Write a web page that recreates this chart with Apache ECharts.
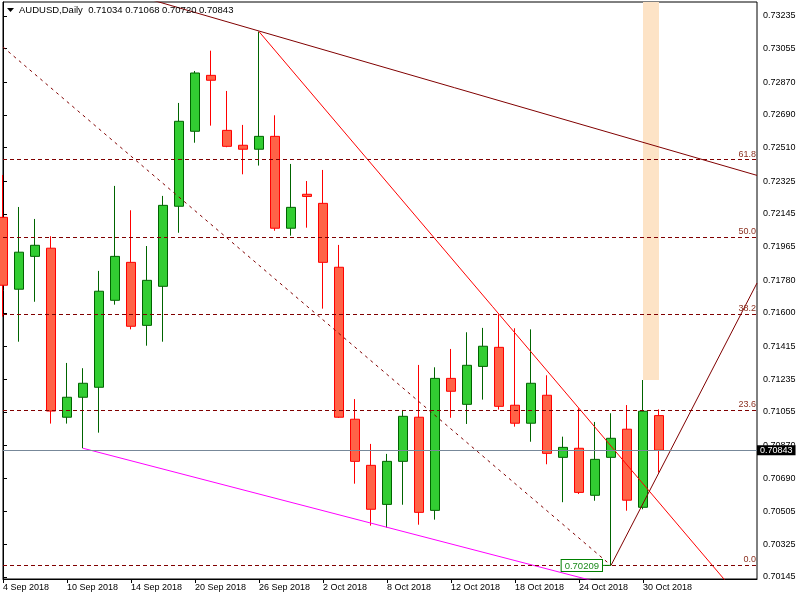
<!DOCTYPE html>
<html><head><meta charset="utf-8">
<script src="https://cdn.jsdelivr.net/npm/echarts@6/dist/echarts.min.js"></script>
<style>html,body{margin:0;padding:0;background:#fff}#c{width:800px;height:600px}</style>
</head><body><div id="c"></div>
<script>
const symbolName = 'AUDUSD,Daily';
const dates = ['4 Sep 2018','5 Sep 2018','6 Sep 2018','7 Sep 2018','10 Sep 2018','11 Sep 2018','12 Sep 2018','13 Sep 2018','14 Sep 2018','17 Sep 2018','18 Sep 2018','19 Sep 2018','20 Sep 2018','21 Sep 2018','24 Sep 2018','25 Sep 2018','26 Sep 2018','27 Sep 2018','28 Sep 2018',
  '1 Oct 2018','2 Oct 2018','3 Oct 2018','4 Oct 2018','5 Oct 2018','8 Oct 2018','9 Oct 2018','10 Oct 2018','11 Oct 2018','12 Oct 2018','15 Oct 2018','16 Oct 2018','17 Oct 2018','18 Oct 2018','19 Oct 2018','22 Oct 2018','23 Oct 2018','24 Oct 2018','25 Oct 2018','26 Oct 2018','29 Oct 2018','30 Oct 2018','31 Oct 2018'];
const opens = [0.72126,0.71730,0.71911,0.71956,0.71025,0.71135,0.71190,0.71669,0.71878,0.71531,0.71746,0.72187,0.72600,0.72908,0.72605,0.72523,0.72501,0.72572,0.72066,0.72253,0.72203,0.71851,0.71014,0.70760,0.70545,0.70782,0.71025,0.70512,0.71239,0.71096,0.71305,0.71410,0.71091,0.70992,0.71146,0.70804,0.70854,0.70595,0.70804,0.70959,0.70529,0.71034];
const highs = [0.72359,0.72183,0.72117,0.72022,0.71324,0.71295,0.71831,0.72299,0.72165,0.71968,0.72244,0.72756,0.72932,0.73044,0.72822,0.72635,0.73149,0.72688,0.72420,0.72326,0.72387,0.71974,0.71125,0.70878,0.70823,0.71065,0.71313,0.71300,0.71401,0.71493,0.71517,0.71592,0.71515,0.71509,0.71256,0.70918,0.71074,0.70999,0.71047,0.71092,0.71230,0.71068];
const lows = [0.71579,0.71441,0.71661,0.70990,0.70990,0.70854,0.70940,0.71645,0.71509,0.71419,0.71441,0.72041,0.72537,0.72631,0.72512,0.72363,0.72411,0.72052,0.72025,0.72069,0.71623,0.71021,0.70659,0.70428,0.70417,0.70543,0.70433,0.70461,0.71022,0.70988,0.71122,0.71067,0.70973,0.70890,0.70766,0.70557,0.70602,0.70565,0.70209,0.70510,0.70518,0.70720];
const closes = [0.71752,0.71934,0.71972,0.71059,0.71135,0.71212,0.71719,0.71911,0.71526,0.71779,0.72192,0.72655,0.72921,0.72881,0.72517,0.72501,0.72572,0.72066,0.72181,0.72241,0.71878,0.71025,0.70782,0.70518,0.70782,0.71030,0.70501,0.71239,0.71168,0.71311,0.71416,0.71085,0.70992,0.71212,0.70826,0.70859,0.70611,0.70793,0.70909,0.70568,0.71058,0.70843];
const priceTicks = [0.70145,0.70325,0.70505,0.70690,0.70870,0.71055,0.71235,0.71415,0.71600,0.71780,0.71965,0.72145,0.72325,0.72510,0.72690,0.72870,0.73055,0.73235];
const dateTickIdx = [0,4,8,12,16,20,24,28,32,36,40];
const fibLabels = ['0.0','23.6','38.2','50.0','61.8'];
const fibPrices = [0.70209,0.71063,0.71591,0.72017,0.72444];
const lineResistance = [[9,0.73331],[47.125,0.72357]];
const lineFalling = [[16,0.73149],[46.06,0.70030]];
const lineDotted = [[-1,0.73139],[38,0.70209]];
const lineMagenta = [[5,0.70854],[37,0.70121]];
const lineRising = [[38,0.70209],[47.125,0.71764]];
const bandZone = [[40,0.71230],[41,0.73400]];
const lowMarkIdx = 38;

const FONT = '"Liberation Sans", Arial, sans-serif';
const candles = opens.map((o,i)=>[i,o,closes[i],lows[i],highs[i]]);
const last = opens.length-1;
const fmt = v => v.toFixed(5);
const header = symbolName + '  ' + [opens[last],highs[last],lows[last],closes[last]].map(fmt).join(' ');

const chart = echarts.init(document.getElementById('c'), null, {renderer:'canvas'});
const lineSeries = (data, color, type, z) => ({
  type:'line', data, symbol:'none', showSymbol:false, clip:true, silent:true, z,
  lineStyle:{color, width:1, type}, animation:false
});
chart.setOption({
  animation:false,
  backgroundColor:'#fff',
  grid:{left:3,right:43,top:2,bottom:21,show:true,borderColor:'#000',borderWidth:1,containLabel:false,outerBoundsMode:'none'},
  xAxis:{type:'value',min:0,max:47.125,
    axisLine:{show:true,lineStyle:{color:'#000'}},
    axisTick:{show:true,inside:false,length:4,customValues:dateTickIdx,lineStyle:{color:'#000'}},
    axisLabel:{show:true,customValues:dateTickIdx,formatter:v=>dates[Math.round(v)]||'',align:'left',margin:4,color:'#000',fontSize:9,fontFamily:FONT},
    splitLine:{show:false}},
  yAxis:{type:'value',position:'right',min:0.70134,max:0.73312,
    axisLine:{show:true,lineStyle:{color:'#000'}},
    axisTick:{show:true,inside:false,length:4,customValues:priceTicks,lineStyle:{color:'#000'}},
    axisLabel:{show:true,customValues:priceTicks,formatter:v=>fmt(v),margin:6,color:'#000',fontSize:9,fontFamily:FONT},
    splitLine:{show:false}},
  graphic:[
    {type:'polygon',shape:{points:[[7,8],[14,8],[10.5,12]]},style:{fill:'#000'},z:100},
    {type:'text',left:19,top:5,style:{text:header,fill:'#000',font:'9.5px '+FONT},z:100}
  ],
  series:[
    {type:'line',data:[],symbol:'none',z:1,silent:true,
      markArea:{silent:true,itemStyle:{color:'#FDE3C6'},data:[[{coord:bandZone[0]},{coord:bandZone[1]}]]}},
    {type:'candlestick',data:candles,encode:{x:0,y:[1,2,3,4]},barWidth:10,clip:true,z:2,silent:true,
      itemStyle:{color:'#32CD32',color0:'#FF6347',borderColor:'#006400',borderColor0:'#FF0000',borderWidth:1},
      markPoint:{silent:true,symbol:'rect',symbolSize:0,
        data:[{coord:[lowMarkIdx,lows[lowMarkIdx]],
          label:{show:true,position:'left',distance:0,
            formatter:'{box|'+fmt(lows[lowMarkIdx])+'}{ln|}',
            rich:{box:{color:'#1A8A1A',fontSize:9.5,fontFamily:FONT,backgroundColor:'#fff',borderColor:'#008000',borderWidth:1,padding:[1,3,0,3]},
                  ln:{width:9,height:1,backgroundColor:'#008000',verticalAlign:'middle'}}}}]}
    },
    {type:'line',data:[],symbol:'none',z:3,silent:true,
      markLine:{silent:true,symbol:['none','none'],precision:5,animation:false,
        data:fibPrices.map((p,i)=>({yAxis:p,lineStyle:{color:'#800000',type:[4,3],width:1},
          label:{show:true,position:'insideEndTop',distance:[1,1],formatter:fibLabels[i],color:'#8B3020',fontSize:9,fontFamily:FONT}}))
        .concat([{yAxis:closes[last],lineStyle:{color:'#778899',type:'solid',width:1},
          label:{show:true,position:'end',distance:0,formatter:fmt(closes[last]),color:'#fff',backgroundColor:'#000',padding:[1,3,0,3],fontSize:9,fontFamily:FONT}}])}},
    lineSeries(lineResistance,'#800000','solid',4),
    lineSeries(lineFalling,'#FF0000','solid',4),
    lineSeries(lineDotted,'#800000',[3,4],4),
    lineSeries(lineMagenta,'#FF00FF','solid',4),
    lineSeries(lineRising,'#800000','solid',4)
  ]
});
</script></body></html>
